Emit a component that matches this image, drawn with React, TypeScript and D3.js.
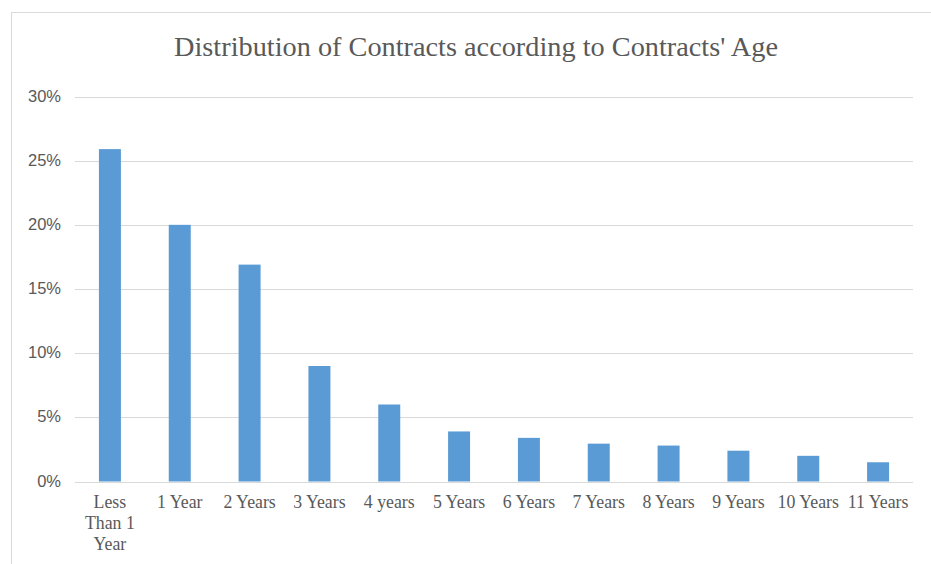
import React from "react";
import * as d3 from "d3";

const categories: string[][] = [
  ["Less", "Than 1", "Year"],
  ["1 Year"],
  ["2 Years"],
  ["3 Years"],
  ["4 years"],
  ["5 Years"],
  ["6 Years"],
  ["7 Years"],
  ["8 Years"],
  ["9 Years"],
  ["10 Years"],
  ["11 Years"],
];
const values: number[] = [25.9, 20.0, 16.9, 9.0, 6.0, 3.9, 3.4, 2.95, 2.8, 2.4, 2.0, 1.5];
const yTicks: number[] = [0, 5, 10, 15, 20, 25, 30];
const title = "Distribution of Contracts according to Contracts' Age";

const W = 931;
const H = 564;
const margin = { left: 75, right: 18, top: 96.5, bottom: 82.5 };

export default function App() {
  const keys = categories.map((c) => c.join(" "));
  const x = d3
    .scaleBand<string>()
    .domain(keys)
    .range([margin.left, W - margin.right])
    .paddingInner(0.685)
    .paddingOuter(0.3425);
  const y = d3.scaleLinear().domain([0, 30]).range([H - margin.bottom, margin.top]);
  const serif = "Liberation Serif, serif";
  const sans = "Liberation Sans, sans-serif";
  const txt = "#595959";

  return (
    <svg
      width={W}
      height={H}
      style={{ position: "fixed", left: 0, top: 0, background: "#fff", fontFamily: serif }}
    >
      <rect x={0} y={0} width={W} height={H} fill="#fff" />
      <path d={`M11.5,${H} V12.5 H${W}`} fill="none" stroke="#d9d9d9" strokeWidth={1} />
      <text x={476} y={56} textAnchor="middle" fontSize={28.3} fill={txt} style={{ fontFamily: serif }}>
        {title}
      </text>
      {yTicks.map((t) => (
        <g key={t}>
          <line
            x1={margin.left}
            x2={W - margin.right}
            y1={Math.round(y(t)) + 0.5}
            y2={Math.round(y(t)) + 0.5}
            stroke="#d9d9d9"
            strokeWidth={1}
          />
          <text x={61} y={y(t) + 5} textAnchor="end" fontSize={16.5} fill={txt} style={{ fontFamily: sans }}>
            {t}%
          </text>
        </g>
      ))}
      {values.map((v, i) => (
        <rect
          key={i}
          x={x(keys[i])}
          y={y(v)}
          width={x.bandwidth()}
          height={y(0) - y(v)}
          fill="#5b9bd5"
        />
      ))}
      {categories.map((lines, i) => (
        <text
          key={i}
          x={(x(keys[i]) as number) + x.bandwidth() / 2}
          y={508}
          textAnchor="middle"
          fontSize={17.8}
          fill={txt}
          style={{ fontFamily: serif }}
        >
          {lines.map((l, j) => (
            <tspan key={j} x={(x(keys[i]) as number) + x.bandwidth() / 2} dy={j === 0 ? 0 : 21}>
              {l}
            </tspan>
          ))}
        </text>
      ))}
    </svg>
  );
}
